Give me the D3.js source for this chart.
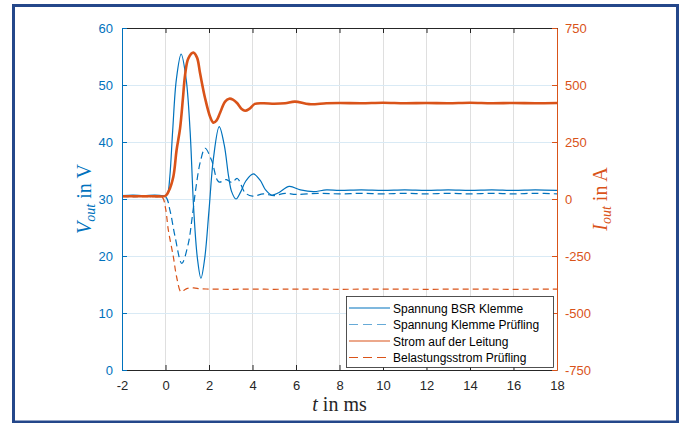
<!DOCTYPE html>
<html>
<head>
<meta charset="utf-8">
<script src="https://cdn.jsdelivr.net/npm/d3@7"></script>
<style>
  html, body { margin: 0; padding: 0; background: #fff; }
  svg { display: block; }
</style>
</head>
<body>
<svg id="chart" width="682" height="423"></svg>
<script>
// ---------------- DATA ----------------
const xTicks = [-2, 0, 2, 4, 6, 8, 10, 12, 14, 16, 18];
const yLeftTicks = [0, 10, 20, 30, 40, 50, 60];
const yRightTicks = [-750, -500, -250, 0, 250, 500, 750];

const seriesNames = [
  "Spannung BSR Klemme",
  "Spannung Klemme Prüfling",
  "Strom auf der Leitung",
  "Belastungsstrom Prüfling"
];

// Spannung BSR Klemme (V)
const tBSR = [-2, -1.5, -1, -0.5, 0, 0.1, 0.2, 0.33, 0.5, 0.72, 0.95, 1.13, 1.3, 1.47, 1.63, 1.8, 2.0, 2.2, 2.47, 2.7, 2.9, 3.04, 3.24, 3.45, 3.7, 4.04, 4.35, 4.6, 4.88, 5.2, 5.69, 6.2, 6.8, 7.4, 8, 9, 10, 11, 12, 13, 14, 15, 16, 17, 18];
const vBSR = [30.6, 30.7, 30.6, 30.7, 30.6, 31, 34, 42, 51, 55.4, 51, 42, 28, 19.5, 16.1, 19.5, 28, 37, 42.7, 39.5, 34, 31.3, 30, 31.2, 33.2, 34.4, 33.3, 31.6, 30.7, 31.1, 32.2, 31.6, 31.3, 31.6, 31.5, 31.6, 31.5, 31.6, 31.5, 31.6, 31.5, 31.6, 31.5, 31.6, 31.5];

// Spannung Klemme Prüfling (V)
const tPruef = [-2, -1.5, -1, -0.5, 0, 0.2, 0.44, 0.75, 1.05, 1.2, 1.4, 1.6, 1.82, 2.12, 2.45, 2.8, 3.05, 3.3, 3.66, 4.0, 4.5, 5.0, 5.5, 6, 7, 8, 9, 10, 11, 12, 13, 14, 15, 16, 17, 18];
const vPruef = [30.5, 30.4, 30.5, 30.4, 30.4, 28.1, 23.4, 18.7, 22.2, 26, 32, 36.5, 38.9, 36.8, 33.0, 33.4, 32.9, 33.6, 31.1, 30.5, 30.9, 30.6, 31.0, 30.8, 31.0, 30.9, 31.0, 30.9, 31.0, 30.9, 31.0, 30.9, 31.0, 30.9, 31.0, 30.9];

// Strom auf der Leitung (A)
const tStrom = [-2, -1.5, -1, -0.5, 0, 0.15, 0.36, 0.51, 0.67, 0.8, 0.9, 1.05, 1.28, 1.45, 1.59, 1.82, 2.05, 2.2, 2.35, 2.5, 2.74, 2.93, 3.1, 3.3, 3.5, 3.66, 3.85, 4.11, 4.5, 5.0, 5.5, 5.95, 6.6, 7.4, 8, 9, 10, 11, 12, 13, 14, 15, 16, 17, 18];
const iStrom = [12, 12, 12, 12, 14, 35, 98, 215, 310, 440, 544, 617, 642, 620, 551, 442, 361, 335, 345, 376, 427, 440, 436, 420, 395, 387, 395, 417, 420, 418, 420, 427, 416, 420, 421, 420, 422, 420, 421, 420, 422, 420, 421, 420, 421];

// Belastungsstrom Prüfling (A)
const tLast = [-2, -1.5, -1, -0.5, -0.15, 0, 0.13, 0.36, 0.51, 0.71, 0.85, 1.0, 1.3, 1.6, 2, 3, 4, 5, 6, 8, 10, 12, 14, 16, 18];
const iLast = [10, 10, 10, 10, 8, -40, -136, -253, -341, -407, -400, -392, -390, -394, -395, -396, -395, -396, -395, -396, -395, -396, -395, -396, -395];

// ---------------- LAYOUT ----------------
const BLUE = "#0072BD", ORANGE = "#D95319", DARK = "#262626";
const L = 122, R = 557, T = 28, B = 370;

const svg = d3.select("#chart");

const x = d3.scaleLinear().domain([-2, 18]).range([L, R]);
const yL = d3.scaleLinear().domain([0, 60]).range([B, T]);
const yR = d3.scaleLinear().domain([-750, 750]).range([B, T]);

// outer frame
svg.append("rect")
  .attr("x", 13.5).attr("y", 5.5).attr("width", 664).attr("height", 416.5)
  .attr("fill", "#fff").attr("stroke", "#24478a").attr("stroke-width", 3);

// grid
const grid = svg.append("g");
grid.selectAll("line.vg").data(xTicks.slice(1, -1)).enter().append("line")
  .attr("x1", d => x(d)).attr("x2", d => x(d)).attr("y1", T).attr("y2", B)
  .attr("stroke", "#dfdfdf").attr("stroke-width", 1).attr("shape-rendering", "crispEdges");
grid.selectAll("line.hg").data(yLeftTicks.slice(1, -1)).enter().append("line")
  .attr("x1", L).attr("x2", R).attr("y1", d => yL(d)).attr("y2", d => yL(d))
  .attr("stroke", "#d9eaf5").attr("stroke-width", 1).attr("shape-rendering", "crispEdges");

// series
const clip = svg.append("clipPath").attr("id", "clip")
  .append("rect").attr("x", L).attr("y", T).attr("width", R - L).attr("height", B - T);

const plot = svg.append("g").attr("clip-path", "url(#clip)");

function drawLine(ts, vs, yScale, color, width, dash) {
  const pts = ts.map((t, i) => [t, vs[i]]);
  const line = d3.line()
    .x(d => x(d[0])).y(d => yScale(d[1]))
    .curve(d3.curveCatmullRom.alpha(0.5));
  const p = plot.append("path").datum(pts)
    .attr("d", line).attr("fill", "none")
    .attr("stroke", color).attr("stroke-width", width)
    .attr("stroke-linejoin", "round");
  if (dash) p.attr("stroke-dasharray", dash);
}

drawLine(tBSR, vBSR, yL, BLUE, 1.2, null);
drawLine(tPruef, vPruef, yL, BLUE, 1.2, "7,4");
drawLine(tStrom, iStrom, yR, ORANGE, 2.6, null);
drawLine(tLast, iLast, yR, ORANGE, 1.2, "6,4");

// axes
const fmt = d => String(d);
const axB = svg.append("g").attr("transform", `translate(0,${B})`)
  .call(d3.axisBottom(x).tickValues(xTicks).tickSize(-5).tickSizeOuter(0).tickPadding(11).tickFormat(fmt));
const axT = svg.append("g").attr("transform", `translate(0,${T})`)
  .call(d3.axisTop(x).tickValues(xTicks).tickSize(-5).tickSizeOuter(0).tickFormat(""));
const axL = svg.append("g").attr("transform", `translate(${L},0)`)
  .call(d3.axisLeft(yL).tickValues(yLeftTicks).tickSize(-5).tickSizeOuter(0).tickPadding(9).tickFormat(fmt));
const axR = svg.append("g").attr("transform", `translate(${R},0)`)
  .call(d3.axisRight(yR).tickValues(yRightTicks).tickSize(-5).tickSizeOuter(0).tickPadding(8).tickFormat(fmt));

function styleAxis(g, color) {
  g.selectAll("path.domain").attr("stroke", color).attr("stroke-width", 1);
  g.selectAll(".tick line").attr("stroke", color).attr("stroke-width", 1);
  g.selectAll(".tick text").attr("fill", color)
    .attr("font-family", "'Liberation Sans', Arial, sans-serif").attr("font-size", 13);
}
styleAxis(axB, DARK);
styleAxis(axT, DARK);
styleAxis(axL, BLUE);
styleAxis(axR, ORANGE);

// axis titles
const serif = "'Liberation Serif', 'DejaVu Serif', serif";
function axisTitle(xp, yp, rot, main, sub, rest, color) {
  const t = svg.append("text")
    .attr("transform", `translate(${xp},${yp}) rotate(${rot})`)
    .attr("text-anchor", "middle").attr("fill", color)
    .attr("font-family", serif).attr("font-size", 20);
  t.append("tspan").attr("font-style", "italic").text(main);
  if (sub) {
    t.append("tspan").attr("font-style", "italic").attr("font-size", 14).attr("dy", 4).text(sub);
    t.append("tspan").attr("dy", -4).text(rest);
  } else {
    t.append("tspan").text(rest);
  }
}
axisTitle(91, 199, -90, "V", "out", " in V", BLUE);
axisTitle(607, 199, -90, "I", "out", " in A", ORANGE);
axisTitle((L + R) / 2, 411, 0, "t", null, " in ms", DARK);

// legend
const lg = svg.append("g");
lg.append("rect").attr("x", 346.5).attr("y", 296.5).attr("width", 207).attr("height", 71)
  .attr("fill", "#fff").attr("stroke", DARK).attr("stroke-width", 0.8);
const legendStyles = [
  { color: BLUE, dash: null },
  { color: BLUE, dash: "9,5", light: true },
  { color: ORANGE, dash: null },
  { color: ORANGE, dash: "9,5" }
];
const rowY = [308, 324.5, 341, 357.5];
seriesNames.forEach((name, i) => {
  const s = legendStyles[i];
  const ln = lg.append("line").attr("x1", 349).attr("x2", 390)
    .attr("y1", rowY[i]).attr("y2", rowY[i])
    .attr("stroke", s.color).attr("stroke-width", 1.2);
  if (s.dash) ln.attr("stroke-dasharray", s.dash);
  if (s.light) ln.attr("stroke-opacity", 0.6);
  lg.append("text").attr("x", 393).attr("y", rowY[i] + 4.5)
    .attr("font-family", "'Liberation Sans', Arial, sans-serif").attr("font-size", 12)
    .attr("fill", "#000").text(name);
});
</script>
</body>
</html>
